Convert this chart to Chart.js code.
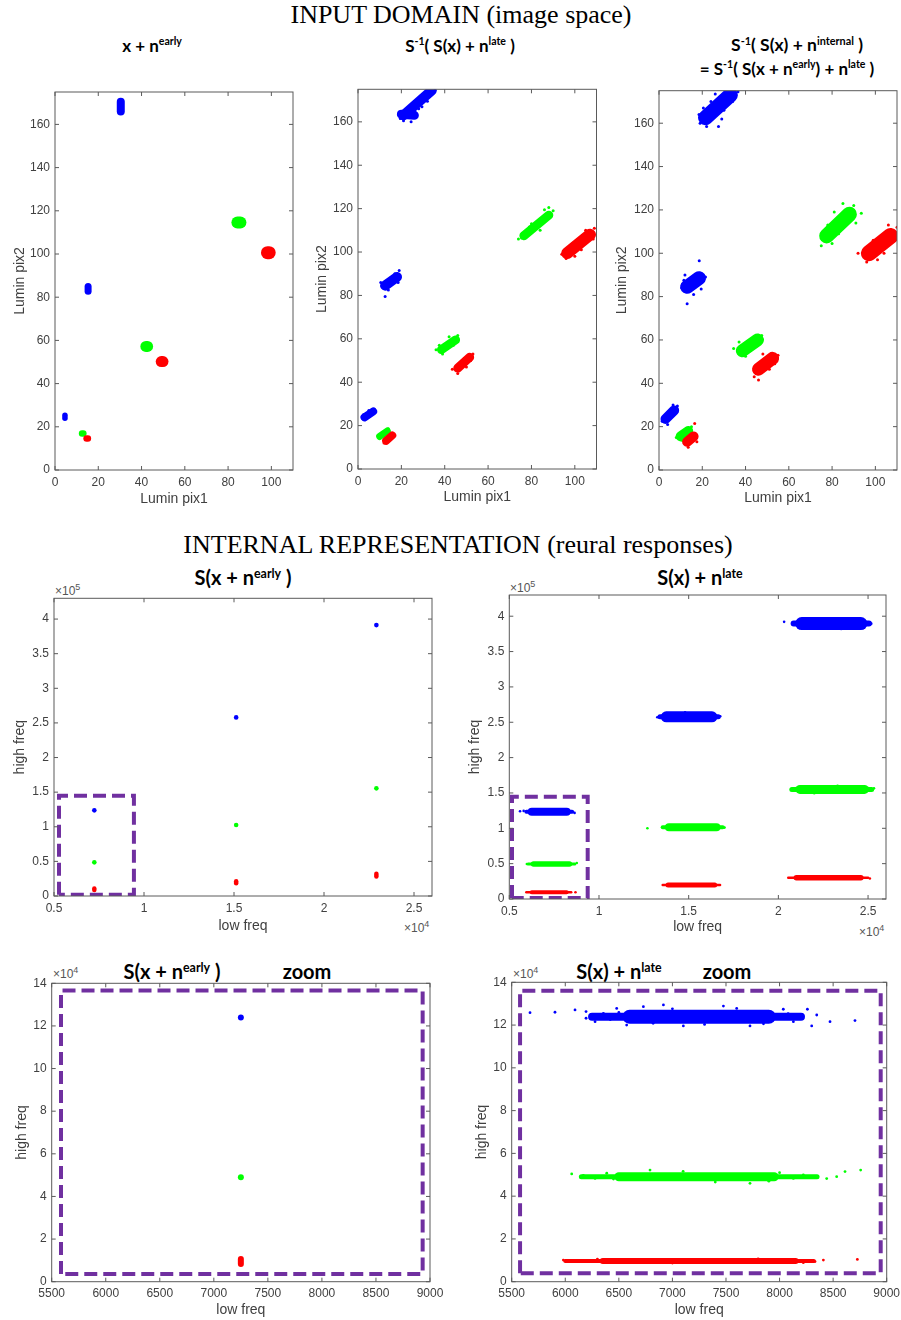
<!DOCTYPE html>
<html>
<head>
<meta charset="utf-8">
<script src="https://cdn.jsdelivr.net/npm/chart.js@4.4.1/dist/chart.umd.min.js"></script>
<style>
  body { margin: 0; background: #fff; width: 901px; height: 1320px; position: relative; overflow: hidden;
         font-family: 'Liberation Sans', Arial, sans-serif; }
  canvas { position: absolute; }
  .sec { position: absolute; font-family: 'Liberation Serif', 'Times New Roman', serif; font-size: 26px;
         color: #000; white-space: nowrap; transform: translate(-50%, -50%); }
  .ttl { position: absolute; font-family: Lato, 'Open Sans', sans-serif; font-weight: 700; color: #000;
         white-space: nowrap; transform: translate(-50%, -50%); line-height: 1; }
  .ttl sup { font-size: 62%; vertical-align: 0.6em; line-height: 0; }
  .exp { position: absolute; font-size: 12px; color: #555; white-space: nowrap; line-height: 1; }
  .exp sup { font-size: 9px; vertical-align: 5px; line-height: 0; }
</style>
</head>
<body>

<div class="sec" style="left:461px;top:15px">INPUT DOMAIN (image space)</div>
<div class="ttl" style="left:152px;top:45px;font-size:17px">x + n<sup>early</sup></div>
<div class="ttl" style="left:460px;top:45px;font-size:17px">S<sup>-1</sup>( S(x) + n<sup>late</sup> )</div>
<div class="ttl" style="left:797px;top:45px;font-size:17.5px">S<sup>-1</sup>( S(x) + n<sup>internal</sup> )</div>
<div class="ttl" style="left:787px;top:68px;font-size:17px">= S<sup>-1</sup>( S(x + n<sup>early</sup>) + n<sup>late</sup> )</div>

<div class="sec" style="left:458px;top:545px">INTERNAL REPRESENTATION (reural responses)</div>
<div class="ttl" style="left:243px;top:577px;font-size:20px">S(x + n<sup>early</sup> )</div>
<div class="ttl" style="left:700px;top:577px;font-size:20px">S(x) + n<sup>late</sup></div>
<div class="ttl" style="left:172px;top:971px;font-size:20px">S(x + n<sup>early</sup> )</div>
<div class="ttl" style="left:307px;top:971px;font-size:20px">zoom</div>
<div class="ttl" style="left:619px;top:971px;font-size:20px">S(x) + n<sup>late</sup></div>
<div class="ttl" style="left:727px;top:971px;font-size:20px">zoom</div>

<div class="exp" style="left:55px;top:585px">&times;10<sup>5</sup></div>
<div class="exp" style="left:510px;top:582px">&times;10<sup>5</sup></div>
<div class="exp" style="left:404px;top:922px">&times;10<sup>4</sup></div>
<div class="exp" style="left:859px;top:926px">&times;10<sup>4</sup></div>
<div class="exp" style="left:53px;top:968px">&times;10<sup>4</sup></div>
<div class="exp" style="left:513px;top:968px">&times;10<sup>4</sup></div>

<canvas id="p1"></canvas>
<canvas id="p2"></canvas>
<canvas id="p3"></canvas>
<canvas id="p4"></canvas>
<canvas id="p5"></canvas>
<canvas id="p6"></canvas>
<canvas id="p7"></canvas>

<script>
/* ---------- data ---------- */
// clusters are [x1, y1, x2, y2] : the dense core of each cloud, from one end to the other

// tick values
const pixXTicks  = [0, 20, 40, 60, 80, 100];
const pixYTicks  = [0, 20, 40, 60, 80, 100, 120, 140, 160];
const freqXTicks = [5000, 10000, 15000, 20000, 25000];
const freqYTicks = [0, 50000, 100000, 150000, 200000, 250000, 300000, 350000, 400000];
const zoomXTicks = [5500, 6000, 6500, 7000, 7500, 8000, 8500, 9000];
const zoomYTicks = [0, 20000, 40000, 60000, 80000, 100000, 120000, 140000];

// panel 1 : x + n_early  (Lumin pix1 / Lumin pix2)
const p1Blue  = [[4.6, 24.0, 4.6, 25.3], [15.3, 82.8, 15.3, 85.0], [30.4, 166.0, 30.4, 170.5]];
const p1Green = [[12.5, 16.9, 13.1, 16.9], [42.0, 57.2, 42.8, 57.2], [84.3, 114.6, 85.7, 114.6]];
const p1Red   = [[14.6, 14.6, 15.2, 14.6], [49.1, 50.2, 49.9, 50.2], [98.2, 100.6, 99.0, 100.6]];

// panel 2 : S^-1( S(x) + n_late )
const p2Blue  = [[3.0, 23.8, 7.0, 26.5], [12.5, 84.5, 18.0, 88.5], [21.0, 163.0, 34.0, 174.5], [20.0, 163.5, 26.0, 163.0]];
const p2Green = [[10.0, 15.0, 13.5, 17.5], [38.5, 55.0, 45.0, 59.5], [76.5, 107.5, 88.0, 117.0]];
const p2Red   = [[13.0, 13.0, 15.8, 15.5], [46.0, 46.5, 51.5, 51.5], [96.5, 99.5, 107.0, 108.0]];
const p2BlueDots  = [[19.5, 161.5], [21, 160.5], [24.5, 160], [19, 164.5], [26, 162], [28, 166], [23, 166.5],
                     [31, 171], [35.5, 174.5], [12.5, 79.5], [11, 84.5], [19, 91.5], [18.5, 86], [2, 23.5], [7.5, 27.5],
                     [27, 168.5], [29.5, 167], [32, 169.5], [17, 90], [14, 82.5], [10.5, 86], [5, 27], [2.5, 25]];
const p2GreenDots = [[36, 55], [46, 61.5], [39, 53], [74, 106], [75.5, 106.5], [90, 119], [88, 120.5], [9.5, 15], [14, 18.5],
                     [80, 113], [84, 110], [86, 119.5], [79, 111.5], [42, 61], [44, 57], [37.5, 57]];
const p2RedDots   = [[43.5, 46], [46, 44], [53, 53], [52, 50], [94, 99], [96, 97], [109, 111], [108.5, 106], [100, 98],
                     [12, 12], [16.5, 16], [99, 104], [103, 101], [105, 110], [48, 49.5], [50, 47]];

// panel 3 : S^-1( S(x) + n_internal )
const p3Blue  = [[3.0, 23.5, 7.0, 27.5], [13.0, 84.5, 18.5, 88.5], [21.5, 162.5, 33.0, 173.0]];
const p3Green = [[10.0, 15.5, 13.5, 18.0], [38.5, 55.0, 45.5, 60.0], [77.5, 108.0, 88.0, 118.0]];
const p3Red   = [[13.0, 13.0, 16.0, 15.5], [46.0, 46.5, 52.5, 51.5], [97.0, 100.0, 107.0, 108.0]];
const p3BlueDots  = [[19, 160], [22, 158.5], [27.5, 158.5], [18.5, 164], [24, 170], [29, 162], [26, 173.5], [36.5, 174.5],
                     [34, 170], [13, 76.7], [18.6, 96.6], [10.5, 84], [21.5, 89], [16, 81], [12, 90], [1.5, 22.5],
                     [8.5, 29.5], [4, 21], [6.5, 30], [30, 166], [20.5, 167], [11.5, 87.5], [19.5, 83.5]];
const p3GreenDots = [[34.5, 56], [47.5, 62], [40, 52.5], [44.5, 57], [75, 103.5], [80, 104.5], [90, 122], [93.5, 118.5],
                     [85, 123], [78, 113], [8, 15], [15, 20], [11, 13.5], [83, 109], [91, 114], [81, 119], [37, 59]];
const p3RedDots   = [[44, 43], [46, 41.5], [55, 53], [51, 46.5], [48, 53.5], [92, 100], [96, 96], [110, 112], [106, 113],
                     [111, 108], [101, 97], [16.5, 21.5], [13.5, 10.5], [17.5, 13], [99, 106], [104, 100], [53.5, 49]];

// panel 4 : S(x + n_early)  (low freq / high freq)
const p4Blue  = [[7240, 123700], [15120, 258000], [22910, 391300]];
const p4Green = [[7240, 48600], [15120, 102500], [22910, 155500]];
const p4Red   = [[7240, 8500, 7240, 10700], [15120, 18300, 15120, 21200], [22910, 28300, 22910, 32200]];

// panel 5 : S(x) + n_late
const p5BlueTail  = [[5950, 123400, 8500, 123400], [13400, 257700, 16650, 257700], [20850, 389600, 25050, 389600]];
const p5BlueCore  = [[6250, 123400, 8200, 123400], [13750, 257700, 16300, 257700], [21300, 389600, 24600, 389600]];
const p5GreenTail = [[6050, 49500, 8650, 49500], [13550, 101500, 16900, 101500], [20750, 155000, 25200, 155000]];
const p5GreenCore = [[6350, 49500, 8350, 49500], [13900, 101500, 16550, 101500], [21200, 155000, 24800, 155000]];
const p5RedTail   = [[5950, 9400, 8450, 9400], [13550, 19800, 16750, 19800], [20550, 30000, 25000, 30000]];
const p5RedCore   = [[6250, 9400, 8200, 9400], [13850, 19800, 16450, 19800], [21000, 30000, 24600, 30000]];
const p5BlueDots  = [[5600, 124200], [5800, 124600], [8640, 121800], [8550, 123000], [13250, 257000], [16760, 258500],
                     [20320, 392000], [25180, 389500], [25050, 391000], [22000, 397000], [23500, 382000], [14800, 264000]];
const p5GreenDots = [[8760, 51000], [5980, 49500], [12700, 100000], [17000, 101000], [25330, 156500], [25150, 154000],
                     [23300, 160000], [22000, 149500]];
const p5RedDots   = [[8690, 9500], [25100, 29000]];

// panel 6 : S(x + n_early) zoom
const p6Blue  = [[7250, 123900]];
const p6Green = [[7250, 49000]];
const p6Red   = [[7250, 8300, 7250, 10600]];

// panel 7 : S(x) + n_late zoom
const p7BlueTail  = [[6250, 123900, 8200, 123900]];
const p7BlueCore  = [[6600, 123900, 7900, 123900]];
const p7GreenTail = [[6150, 49100, 8350, 49100]];
const p7GreenCore = [[6500, 49100, 7950, 49100]];
const p7RedTail   = [[6000, 9700, 8320, 9700]];
const p7RedCore   = [[6350, 9700, 8150, 9700]];
const p7BlueDots  = [[5671, 125800], [5904, 126000], [6091, 127100], [6194, 126300], [6194, 123200], [6278, 121600],
                     [6356, 125500], [6480, 127800], [6573, 120000], [6729, 128600], [6916, 129400], [7102, 119600],
                     [7476, 128900], [7724, 119600], [8035, 127400], [8129, 121600], [8191, 123900], [8260, 127400],
                     [8300, 119600], [8347, 124700], [8471, 121600], [8704, 122100], [6420, 122600], [6500, 125900],
                     [7000, 127600], [7300, 120300], [7600, 127800], [7850, 120600], [8080, 125300], [6820, 120800]];
const p7GreenDots = [[6060, 50400], [6169, 49700], [6278, 48300], [6387, 50700], [8129, 48300], [8222, 49900],
                     [8347, 49100], [8440, 48200], [8533, 49100], [8611, 51500], [8757, 52200], [6791, 52200], [7724, 46000],
                     [6450, 48000], [7100, 51600], [7400, 46600], [8000, 51000], [7900, 47000]];
const p7RedDots   = [[5982, 10100], [6044, 9800], [6107, 9400], [6200, 9700], [8331, 9400], [8409, 10100],
                     [8726, 10400], [8222, 8900], [6300, 10600], [7000, 8700], [7800, 10700]];

// dashed zoom windows [x1, y1, x2, y2]
const p4Window = [5278, 1900, 9440, 144900];
const p5Window = [5150, 1500, 9370, 144600];
const p6Window = [5586, 3600, 8932, 136600];
const p7Window = [5578, 3900, 8944, 136100];

/* ---------- styles ---------- */
const BLUE = '#0000ff', GREEN = '#00ff00', RED = '#ff0000', PURPLE = '#7030a0';
const FRAME = '#5a5a5a', TEXT = '#404040';
Chart.defaults.font.family = "'Liberation Sans', Arial, sans-serif";

function segSets(segs, widths, color) {
  return segs.map((s, i) => ({
    data: [{ x: s[0], y: s[1] }, { x: s[2], y: s[3] }],
    showLine: true, borderColor: color, borderWidth: Array.isArray(widths) ? widths[i] : widths,
    borderCapStyle: 'round', pointRadius: 0, clip: 0
  }));
}
function dotSet(pts, color, r) {
  return {
    data: pts.map(p => ({ x: p[0], y: p[1] })), showLine: false,
    pointRadius: r, pointBackgroundColor: color, pointBorderColor: color, pointBorderWidth: 0, clip: 0
  };
}
function windowSet(b) {
  return {
    data: [[b[0], b[1]], [b[0], b[3]], [b[2], b[3]], [b[2], b[1]], [b[0], b[1]]].map(p => ({ x: p[0], y: p[1] })),
    showLine: true, borderColor: PURPLE, borderWidth: 4, borderDash: [13, 6], borderJoinStyle: 'miter',
    pointRadius: 0, clip: 0
  };
}

// MATLAB style box with inward ticks on all four sides
const matlabBox = {
  id: 'matlabBox',
  afterDatasetsDraw(chart) {
    const { ctx, chartArea: a, scales: { x, y } } = chart;
    const tl = 4;
    ctx.save();
    ctx.strokeStyle = FRAME;
    ctx.lineWidth = 1;
    ctx.strokeRect(a.left, a.top, a.right - a.left, a.bottom - a.top);
    ctx.beginPath();
    x.ticks.forEach(t => {
      const px = x.getPixelForValue(t.value);
      ctx.moveTo(px, a.bottom); ctx.lineTo(px, a.bottom - tl);
      ctx.moveTo(px, a.top); ctx.lineTo(px, a.top + tl);
    });
    y.ticks.forEach(t => {
      const py = y.getPixelForValue(t.value);
      ctx.moveTo(a.left, py); ctx.lineTo(a.left + tl, py);
      ctx.moveTo(a.right, py); ctx.lineTo(a.right - tl, py);
    });
    ctx.stroke();
    ctx.restore();
  }
};

const fmt = (v, div) => String(parseFloat((v / div).toFixed(3)));

function makeChart(id, lay, xs, ys, xTitle, yTitle, datasets) {
  const [cl, ct, cr, cb] = lay.canvas;
  const [bl, bt, br, bb] = lay.box;
  const cv = document.getElementById(id);
  cv.width = cr - cl; cv.height = cb - ct;
  cv.style.left = cl + 'px'; cv.style.top = ct + 'px';
  const lh = 14 * 1.2;
  return new Chart(cv, {
    type: 'scatter',
    data: { datasets },
    options: {
      responsive: false, animation: false, events: [],
      layout: { padding: { left: 0, top: bt - ct, right: cr - br, bottom: 0 } },
      plugins: { legend: { display: false }, tooltip: { enabled: false } },
      scales: {
        x: {
          type: 'linear', min: xs.min, max: xs.max,
          afterBuildTicks: s => { s.ticks = xs.ticks.map(v => ({ value: v })); },
          afterFit: s => { s.height = cb - bb; s.paddingLeft = 0; s.paddingRight = 0; },
          grid: { display: false, drawTicks: false }, border: { display: false },
          ticks: { autoSkip: false, maxRotation: 0, padding: 5,
                   color: TEXT, font: { size: 12 }, callback: v => fmt(v, xs.div) },
          title: { display: true, text: xTitle, color: TEXT, font: { size: 14 }, padding: cb - lay.xLabelY - lh / 2 }
        },
        y: {
          type: 'linear', min: ys.min, max: ys.max,
          afterBuildTicks: s => { s.ticks = ys.ticks.map(v => ({ value: v })); },
          afterFit: s => { s.width = bl - cl; s.paddingTop = 0; s.paddingBottom = 0; },
          grid: { display: false, drawTicks: false }, border: { display: false },
          ticks: { autoSkip: false, padding: 5,
                   color: TEXT, font: { size: 12 }, callback: v => fmt(v, ys.div) },
          title: { display: true, text: yTitle, color: TEXT, font: { size: 14 }, padding: lay.yLabelX - cl - lh / 2 }
        }
      }
    },
    plugins: [matlabBox]
  });
}

/* ---------- panels ---------- */
const pixX  = { min: 0, max: 110, ticks: pixXTicks, div: 1 };
const pixY  = { min: 0, max: 175, ticks: pixYTicks, div: 1 };
const freqX = { min: 5000, max: 26000, ticks: freqXTicks, div: 1e4 };
const freqY = { min: 0, max: 430000, ticks: freqYTicks, div: 1e5 };
const zoomX = { min: 5500, max: 9000, ticks: zoomXTicks, div: 1 };
const zoomY = { min: 0, max: 140000, ticks: zoomYTicks, div: 1e4 };

makeChart('p1', { canvas: [0, 80, 300, 510], box: [55, 92, 293, 470], xLabelY: 499, yLabelX: 20 },
  pixX, pixY, 'Lumin pix1', 'Lumin pix2', [
    ...segSets(p1Red, [6.5, 11, 13], RED),
    ...segSets(p1Green, [6.5, 11, 12], GREEN),
    ...segSets(p1Blue, [5.5, 7, 8], BLUE)
  ]);

makeChart('p2', { canvas: [300, 77, 602, 508], box: [358, 89.3, 596.5, 469], xLabelY: 497, yLabelX: 322 },
  pixX, pixY, 'Lumin pix1', 'Lumin pix2', [
    dotSet(p2RedDots, RED, 1.5),
    ...segSets(p2Red, [8, 9, 12], RED),
    dotSet(p2GreenDots, GREEN, 1.5),
    ...segSets(p2Green, [7, 9, 9], GREEN),
    dotSet(p2BlueDots, BLUE, 1.5),
    ...segSets(p2Blue, [8, 10, 10, 9], BLUE)
  ]);

makeChart('p3', { canvas: [600, 78, 901, 509], box: [659, 90.7, 897.5, 470], xLabelY: 498, yLabelX: 622 },
  pixX, pixY, 'Lumin pix1', 'Lumin pix2', [
    dotSet(p3RedDots, RED, 1.5),
    ...segSets(p3Red, [10, 13, 16], RED),
    dotSet(p3GreenDots, GREEN, 1.5),
    ...segSets(p3Green, [10, 13, 15], GREEN),
    dotSet(p3BlueDots, BLUE, 1.5),
    ...segSets(p3Blue, [10, 14, 15], BLUE)
  ]);

makeChart('p4', { canvas: [0, 586, 440, 936], box: [54, 598.3, 432, 896], xLabelY: 926, yLabelX: 20 },
  freqX, freqY, 'low freq', 'high freq', [
    windowSet(p4Window),
    ...segSets(p4Red, 4.5, RED),
    dotSet(p4Green, GREEN, 2.3),
    dotSet(p4Blue, BLUE, 2.3)
  ]);

makeChart('p5', { canvas: [455, 583, 895, 937], box: [509.3, 595, 886, 899], xLabelY: 927, yLabelX: 475 },
  freqX, freqY, 'low freq', 'high freq', [
    windowSet(p5Window),
    dotSet(p5RedDots, RED, 1.3),
    ...segSets(p5RedCore, [4, 5, 5.5], RED),
    ...segSets(p5RedTail, 2.5, RED),
    dotSet(p5GreenDots, GREEN, 1.3),
    ...segSets(p5GreenCore, [5.5, 8, 9], GREEN),
    ...segSets(p5GreenTail, [3, 4, 5], GREEN),
    dotSet(p5BlueDots, BLUE, 1.3),
    ...segSets(p5BlueCore, [8, 11, 13], BLUE),
    ...segSets(p5BlueTail, [4, 5, 6], BLUE)
  ]);

makeChart('p6', { canvas: [0, 969, 450, 1320], box: [51.7, 983.3, 430, 1281.7], xLabelY: 1310, yLabelX: 21.7 },
  zoomX, zoomY, 'low freq', 'high freq', [
    windowSet(p6Window),
    ...segSets(p6Red, 6, RED),
    dotSet(p6Green, GREEN, 3),
    dotSet(p6Blue, BLUE, 3)
  ]);

makeChart('p7', { canvas: [455, 968, 901, 1320], box: [511.7, 982.3, 886.7, 1281.7], xLabelY: 1310, yLabelX: 481.7 },
  zoomX, zoomY, 'low freq', 'high freq', [
    windowSet(p7Window),
    dotSet(p7RedDots, RED, 1.4),
    ...segSets(p7RedCore, 6, RED),
    ...segSets(p7RedTail, 4, RED),
    dotSet(p7GreenDots, GREEN, 1.4),
    ...segSets(p7GreenCore, 9, GREEN),
    ...segSets(p7GreenTail, 5, GREEN),
    dotSet(p7BlueDots, BLUE, 1.4),
    ...segSets(p7BlueCore, 14, BLUE),
    ...segSets(p7BlueTail, 8, BLUE)
  ]);
</script>
</body>
</html>
